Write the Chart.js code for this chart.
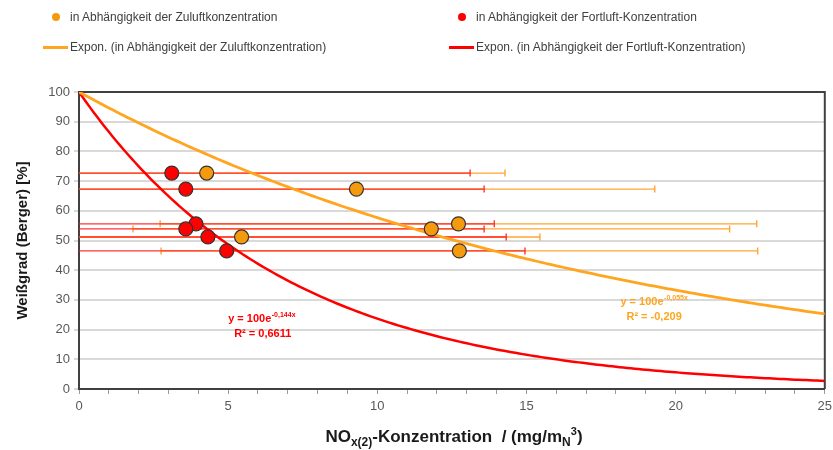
<!DOCTYPE html>
<html lang="de">
<head>
<meta charset="utf-8">
<script src="https://cdn.jsdelivr.net/npm/chart.js@4.4.1/dist/chart.umd.min.js"></script>
<style>
  html, body { margin: 0; padding: 0; background: #ffffff; }
  #wrap { position: relative; width: 833px; height: 450px; font-family: "Liberation Sans", Arial, sans-serif; }
  #chart { position: absolute; left: 0; top: 0; }
  .leg { position: absolute; font-size: 12px; color: #404040; white-space: nowrap; line-height: 14px; }
  .leg .dot { position: absolute; width: 8px; height: 8px; border-radius: 50%; }
  .leg .bar { position: absolute; height: 3px; }
  #xtitle { position: absolute; left: 0; width: 908px; top: 427px; text-align: center;
            font-size: 17px; font-weight: bold; color: #1a1a1a; white-space: nowrap; }
  #xtitle sub { font-size: 12px; vertical-align: -4px; line-height: 0; }
  #xtitle sup { font-size: 11px; vertical-align: 7px; line-height: 0; }
</style>
</head>
<body>
<div id="wrap">
  <canvas id="chart" width="833" height="450"></canvas>
  <div id="legend"></div>
  <div id="xtitle">NO<sub>x(2)</sub>-Konzentration&nbsp; / (mg/m<sub>N</sub><sup>3</sup>)</div>
</div>
<script>
// Weißgrad readings (%), one row per sample
const weissgrad = [72.7, 67.3, 55.6, 53.9, 51.2, 46.5];
// NOx concentration per sample, measured in the supply air (Zuluft)
const noxZuluft = [4.28, 9.30, 12.72, 11.81, 5.45, 12.75];
// NOx concentration per sample, measured in the exhaust air (Fortluft)
const noxFortluft = [3.11, 3.58, 3.92, 3.58, 4.32, 4.95];
// horizontal error (± mg/m³) for each reading
const errZuluft = [10, 10, 10, 10, 10, 10];
const errFortluft = [10, 10, 10, 10, 10, 10];
// exponential trend fits y = 100·e^(k·x)
const fitAmplitude = 100;
const kZuluft = -0.055;
const kFortluft = -0.144;
const r2Zuluft = '-0,209';
const r2Fortluft = '0,6611';
// axis ticks
const xMin = 0, xMax = 25, xLabelStep = 5;
const yMin = 0, yMax = 100, yStep = 10;

const labels = {
  zuluft: 'in Abhängigkeit der Zuluftkonzentration',
  fortluft: 'in Abhängigkeit der Fortluft-Konzentration',
  trendZuluft: 'Expon. (in Abhängigkeit der Zuluftkonzentration)',
  trendFortluft: 'Expon. (in Abhängigkeit der Fortluft-Konzentration)'
};

const ORANGE_PT = '#F59A0C';
const ORANGE_LN = '#FFA51F';
const RED = '#FF0000';

function trend(k) {
  const pts = [];
  for (let i = 0; i <= 200; i++) {
    const x = xMin + (xMax - xMin) * i / 200;
    pts.push({ x, y: fitAmplitude * Math.exp(k * x) });
  }
  return pts;
}
const pointsZuluft = noxZuluft.map((x, i) => ({ x, y: weissgrad[i], e: errZuluft[i] }));
const pointsFortluft = noxFortluft.map((x, i) => ({ x, y: weissgrad[i], e: errFortluft[i] }));

// horizontal error bars, drawn under every dataset
const errorBars = {
  id: 'errorBars',
  beforeDatasetsDraw(chart) {
    const { ctx, chartArea: a, scales: { x, y } } = chart;
    ctx.save();
    ctx.beginPath();
    ctx.rect(a.left, a.top - 1, a.right - a.left, a.bottom - a.top + 2);
    ctx.clip();
    [[pointsZuluft, 'rgba(255,160,40,0.95)'], [pointsFortluft, 'rgba(255,30,30,0.9)']].forEach(([pts, col]) => {
      ctx.strokeStyle = col;
      ctx.lineWidth = 1.4;
      pts.forEach(p => {
        const py = y.getPixelForValue(p.y);
        const x1 = x.getPixelForValue(p.x - p.e);
        const x2 = x.getPixelForValue(p.x + p.e);
        ctx.beginPath();
        ctx.moveTo(x1, py); ctx.lineTo(x2, py);
        ctx.moveTo(x1, py - 3.5); ctx.lineTo(x1, py + 3.5);
        ctx.moveTo(x2, py - 3.5); ctx.lineTo(x2, py + 3.5);
        ctx.stroke();
      });
    });
    ctx.restore();
    // top and right frame lines
    ctx.save();
    ctx.strokeStyle = '#404040';
    ctx.lineWidth = 2;
    ctx.beginPath();
    ctx.moveTo(a.left, a.top); ctx.lineTo(a.right, a.top); ctx.lineTo(a.right, a.bottom);
    ctx.stroke();
    ctx.restore();
  }
};

// trend equation labels
function drawEquation(chart, k, r2, color, xv, yv) {
  const { ctx, scales: { x, y } } = chart;
  const px = x.getPixelForValue(xv), py = y.getPixelForValue(yv);
  ctx.save();
  ctx.fillStyle = color;
  ctx.textBaseline = 'alphabetic';
  ctx.textAlign = 'left';
  ctx.font = 'bold 11px "Liberation Sans", Arial, sans-serif';
  const base = 'y = ' + fitAmplitude + 'e';
  ctx.fillText(base, px, py);
  const w = ctx.measureText(base).width;
  ctx.font = 'bold 7px "Liberation Sans", Arial, sans-serif';
  ctx.fillText(String(k).replace('.', ',') + 'x', px + w + 0.5, py - 5);
  ctx.font = 'bold 11px "Liberation Sans", Arial, sans-serif';
  ctx.fillText('R² = ' + r2, px + 6, py + 15);
  ctx.restore();
}
const equations = {
  id: 'equations',
  afterDatasetsDraw(chart) {
    drawEquation(chart, kFortluft, r2Fortluft, RED, 5.0, 22.4);
    drawEquation(chart, kZuluft, r2Zuluft, ORANGE_LN, 18.15, 28.4);
  }
};

const chart = new Chart(document.getElementById('chart'), {
  type: 'scatter',
  data: {
    datasets: [
      { type: 'line', label: labels.trendZuluft, data: trend(kZuluft), borderColor: ORANGE_LN,
        borderWidth: 2.8, pointRadius: 0, fill: false, tension: 0, order: 2 },
      { type: 'line', label: labels.trendFortluft, data: trend(kFortluft), borderColor: RED,
        borderWidth: 2.5, pointRadius: 0, fill: false, tension: 0, order: 2 },
      { label: labels.zuluft, data: pointsZuluft, backgroundColor: ORANGE_PT, borderColor: '#333333',
        borderWidth: 1.2, pointRadius: 7, order: 1 },
      { label: labels.fortluft, data: pointsFortluft, backgroundColor: RED, borderColor: '#333333',
        borderWidth: 1.2, pointRadius: 7, order: 0 }
    ]
  },
  options: {
    responsive: false,
    animation: false,
    devicePixelRatio: 1,
    layout: { padding: { top: 92, right: 7, left: 0, bottom: 0 } },
    plugins: { legend: { display: false }, tooltip: { enabled: false } },
    scales: {
      x: {
        type: 'linear', min: xMin, max: xMax,
        border: { display: true, color: '#404040', width: 2 },
        grid: { drawOnChartArea: false, drawTicks: true, tickLength: 5, color: '#9a9a9a' },
        ticks: {
          stepSize: 1, autoSkip: false, maxRotation: 0, padding: 5,
          color: '#595959', font: { size: 13, family: '"Liberation Sans", Arial, sans-serif' },
          callback: v => (v % xLabelStep === 0 ? v : '')
        },
        afterFit(s) { s.height = 61; s.paddingLeft = 0; s.paddingRight = 0; }
      },
      y: {
        min: yMin, max: yMax,
        border: { display: true, color: '#404040', width: 2 },
        grid: { color: '#D9D9D9', lineWidth: 2, tickLength: 5, drawTicks: true },
        ticks: { stepSize: yStep, padding: 4, color: '#595959',
                 font: { size: 13, family: '"Liberation Sans", Arial, sans-serif' } },
        title: { display: true, text: 'Weißgrad (Berger) [%]', color: '#1a1a1a',
                 padding: { top: 14, bottom: 0 },
                 font: { size: 15, weight: 'bold', family: '"Liberation Sans", Arial, sans-serif' } },
        afterFit(s) { s.width = 79; s.paddingTop = 0; s.paddingBottom = 0; }
      }
    }
  },
  plugins: [errorBars, equations]
});

// legend in two columns, built from the chart's datasets
const legendSlots = [
  { ds: 2, kind: 'dot', left: 52, top: 10 },
  { ds: 3, kind: 'dot', left: 458, top: 10 },
  { ds: 0, kind: 'bar', left: 43, top: 40 },
  { ds: 1, kind: 'bar', left: 449, top: 40 }
];
const legendEl = document.getElementById('legend');
legendSlots.forEach(s => {
  const ds = chart.data.datasets[s.ds];
  const item = document.createElement('div');
  item.className = 'leg';
  item.style.left = s.left + 'px';
  item.style.top = s.top + 'px';
  const mark = document.createElement('span');
  if (s.kind === 'dot') {
    mark.className = 'dot';
    mark.style.left = '0px'; mark.style.top = '3px';
    mark.style.background = ds.backgroundColor;
    item.style.paddingLeft = '18px';
  } else {
    mark.className = 'bar';
    mark.style.left = '0px'; mark.style.top = '6px'; mark.style.width = '25px';
    mark.style.background = ds.borderColor;
    item.style.paddingLeft = '27px';
  }
  item.appendChild(mark);
  item.appendChild(document.createTextNode(ds.label));
  legendEl.appendChild(item);
});
</script>
</body>
</html>
